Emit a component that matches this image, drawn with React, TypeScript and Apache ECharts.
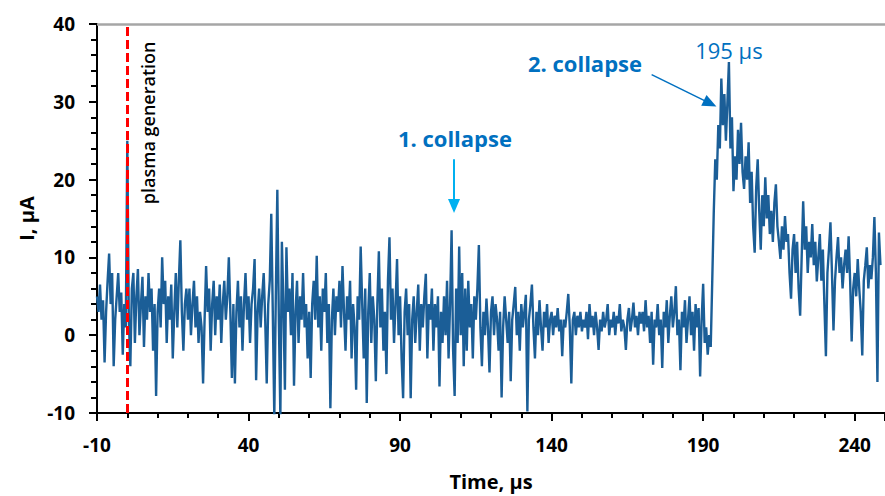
import React, { useEffect, useRef } from "react";
import * as echarts from "echarts";

// time axis: first sample and sampling step (µs)
const T0 = -10;
const DT = 0.5;

// current I (µA), 10 µs per row
const iPre = [5, 3, 6.5, 2, 4.5, -3.5, 3, 7, 10.5, 4, 8, -4, 2, 5, 8, 3, 5.5, -2.5, 4, 1];
const i0 = [25, 2, -4, 6, 8, -1, 5, 8.5, 0, 4, 7.5, -1.5, 5, 2, 8, 3, 6, -2, 4, -7.8];
const i10 = [3, 6, 1, 10, 4, 7, -1, 5, 2, 6.5, -3, 3, 8, 1, 7, 12.2, 3, -2, 4, 6];
const i20 = [2, 6, 0, 4, 7, 1, 5, -1, 3, 1, -6.2, 2, 8.9, 3, 6, -2, 4, 7, 0, 5];
const i30 = [2, 6.5, -1, 4, 7, 2, 5, 10, 3, -5.5, 4, -6.2, 3, 7, 1, 5, -2, 4, 8, 2];
const i40 = [5, -1, 4, 6, 9.8, -5.8, 3, 6, 1, 5, 8, 2, -6.2, 4, 7, 15.6, 3, -10.5, 5, 18.7];
const i50 = [2, -10.5, 12, 4, -7, 11.3, 3, 6, 0, 8, -6.5, 3, 7, -1, 5, 2, 8, 1, 4, -3];
const i60 = [3, -5.5, 4, 7, 2, 10.2, 1, 5, -2, 6, 3, 8, -1, 4, -9.4, 2, 6, 0, 5, 3];
const i70 = [7, 1, 8.9, 3, -2, 5, 2, 7, -3, 4, 1, -7, 5, 2, 11.4, 4, -3, 6, -8.7, 3];
const i80 = [8, -1, 5, 2, -5.9, 4, 10.8, 1, 6, -2, 3, -5, 7, 12.6, 2, 6, -1, 4, 9.8, 0];
const i90 = [5, -3, -8.1, 3, 6, 0, 4, -8.1, 2, 5, -1, 3, 6.5, -2, 4, 1, 5, 7.9, -3, 4];
const i100 = [2, 6, -2, 4, 1, 5, -6.6, 3, -1, 5, 0, 7, -3, 4, 13.5, -2, -7.8, 6, -1, 11.4];
const i110 = [0, 8, -4, 6, -2, 7, 1, 4, -3, 5, 2, 6, 11.6, 1, -4, 3, 0, 4.7, 1, -4.8];
const i120 = [3, 5, 0, 4, 2, -2, 3, -8, 1, 5, 2, -1, 3, -5.9, 2, 4, 6.2, 0, 3, -2];
const i130 = [4, 1, 3, 5.2, -9.8, 2, 4, 6.5, 1, -3, 3, 0, 4.5, 1, -2, 3, 1, 4, -1, 2];
const i140 = [3, 0, 2.5, 1, 3.5, 0.5, 2, -2.7, 2, 1, 3, 5.3, 1, -6.2, 2, 3, 0, 2.5, 1, 3];
const i150 = [0.5, 2, 1, 3, -0.5, 4, 1, 2.5, 0, 3, 1, -1.9, 2, 0.5, 3, 1, 2, 4, 0, 2];
const i160 = [1, 3, 0, 2.5, 1.5, 4, 0.5, 2, 1, -1.9, 2, 3.5, 0.5, 2, 4.2, 1, 2.5, 0, 3, 1.5];
const i170 = [3, 0.5, 4.5, 1, 2.5, -1, 3, -3.8, 2, 1, 4, 0, 2, -4.2, 3, 1, 4.5, -1, 2.5, 5];
const i180 = [1, 3, 6.3, 0, 2, -4.5, 3, 1, 4.5, -1, 2, 5, 0, 3, -2, 4, 1, 3.5, -5.3, 2];
const i190 = [6.6, -1, 1, -2.5, 0, -1.5, 7, 15.8, 22.6, 20, 27, 24, 33, 27, 31, 25, 29.9, 35.1, 24, 28];
const i200 = [18.5, 23, 20, 26.4, 22, 27.3, 21, 18.8, 23, 20, 24.8, 17, 21, 14, 10.6, 19, 22.6, 16, 11, 18];
const i210 = [14, 20.3, 15, 18, 13, 16, 12, 17, 19.4, 14, 12, 9.8, 14, 11, 15.3, 12, 13, 8, 4.7, 11];
const i220 = [13, 8, 12, 6, 2.5, 10, 17.2, 11, 14, 8, 12, 10, 14.3, 9, 12, 6.9, 10, 13, 7, 11];
const i230 = [4, -2.7, 8, 11, 14.5, 8, 0.6, 7, 10, 12.6, 8, 10, 6, 9, 11, 8, 12.7, 7, -0.8, 6];
const i240 = [8, 5, 9.8, 6, 3, -2.6, 7, 9, 11.3, 6, 9, 7.2, 10, 15.2, 8, -6, 13.2, 9];

const current = [
  ...iPre, ...i0, ...i10, ...i20, ...i30, ...i40, ...i50, ...i60, ...i70,
  ...i80, ...i90, ...i100, ...i110, ...i120, ...i130, ...i140, ...i150,
  ...i160, ...i170, ...i180, ...i190, ...i200, ...i210, ...i220, ...i230, ...i240,
];

// axes
const X_MIN = -10;
const X_MAX = 250;
const X_STEP = 50;
const Y_MIN = -10;
const Y_MAX = 40;
const Y_STEP = 10;

// annotations (data coordinates)
const plasmaTime = 0;
const noteLabels = ["plasma generation", "1. collapse", "2. collapse", "195 µs"];
const noteCoords: [number, number][] = [
  [6.9, 27.3],
  [108.1, 25.3],
  [151.0, 35.0],
  [198.5, 36.7],
];
const arrow1: [number, number][] = [
  [107.8, 22.6],
  [107.8, 16.6],
];
const arrow2: [number, number][] = [
  [173.0, 33.5],
  [192.3, 29.8],
];

const FONT = "'Open Sans', 'Noto Sans', sans-serif";

export default function App() {
  const ref = useRef<HTMLDivElement>(null);

  useEffect(() => {
    document.body.style.margin = "0";
    if (!ref.current) return;
    const chart = echarts.init(ref.current, undefined, { renderer: "svg" });

    const data = current.map((v, k) => [T0 + k * DT, v]);

    const noteStyles = [
      { fontSize: 18, fontWeight: 600, color: "#000", rotate: 90 },
      { fontSize: 22, fontWeight: "bold", color: "#0070C0" },
      { fontSize: 22, fontWeight: "bold", color: "#0070C0" },
      { fontSize: 22, fontWeight: "normal", color: "#0070C0" },
    ];

    chart.setOption({
      animation: false,
      textStyle: { fontFamily: FONT },
      grid: { left: 97, right: -5, top: 24, bottom: 81 },
      xAxis: {
        type: "value",
        min: X_MIN,
        max: X_MAX,
        interval: X_STEP,
        name: "Time, µs",
        nameLocation: "middle",
        nameGap: 58,
        nameTextStyle: { fontSize: 20, fontWeight: "bold", color: "#000", fontFamily: FONT },
        axisLine: { show: true, onZero: false, lineStyle: { color: "#000", width: 2 } },
        axisTick: { show: true, length: 8, lineStyle: { color: "#000", width: 2 } },
        minorTick: { show: true, splitNumber: 5, length: 5, lineStyle: { color: "#000", width: 2 } },
        splitLine: { show: false },
        axisLabel: {
          fontSize: 19,
          fontWeight: "bold",
          color: "#000",
          margin: 22,
          showMaxLabel: false,
          fontFamily: FONT,
        },
      },
      yAxis: {
        type: "value",
        min: Y_MIN,
        max: Y_MAX,
        interval: Y_STEP,
        name: "I, µA",
        nameLocation: "middle",
        nameGap: 60,
        nameTextStyle: { fontSize: 20, fontWeight: "bold", color: "#000", fontFamily: FONT },
        axisLine: { show: true, onZero: false, lineStyle: { color: "#000", width: 2 } },
        axisTick: { show: true, length: 8, lineStyle: { color: "#000", width: 2 } },
        minorTick: { show: true, splitNumber: 5, length: 6, lineStyle: { color: "#000", width: 2 } },
        splitLine: { show: false },
        axisLabel: { fontSize: 19, fontWeight: "bold", color: "#000", margin: 22, fontFamily: FONT },
      },
      series: [
        {
          type: "line",
          name: "top",
          data: [],
          z: 1,
          silent: true,
          markLine: {
            silent: true,
            symbol: ["none", "none"],
            label: { show: false },
            lineStyle: { color: "#a6a6a6", width: 2.5, type: "solid" },
            data: [{ yAxis: Y_MAX }],
          },
        },
        {
          type: "line",
          name: "I",
          data,
          showSymbol: false,
          symbol: "none",
          clip: true,
          z: 2,
          lineStyle: { color: "#1b5e97", width: 2.4 },
          itemStyle: { color: "#1b5e97" },
          emphasis: { disabled: true },
          markPoint: {
            silent: true,
            symbol: "circle",
            symbolSize: 1,
            itemStyle: { color: "transparent" },
            data: noteLabels.map((txt, k) => ({
              coord: noteCoords[k],
              value: txt,
              label: {
                show: true,
                position: "inside",
                formatter: txt,
                fontFamily: FONT,
                ...noteStyles[k],
              },
            })),
          },
          markLine: {
            silent: true,
            symbol: ["none", "triangle"],
            symbolSize: [12, 14],
            label: { show: false },
            data: [
              [
                { coord: arrow1[0], lineStyle: { color: "#00B0F0", width: 2, type: "solid" } },
                { coord: arrow1[1], itemStyle: { color: "#00B0F0" } },
              ],
              [
                { coord: arrow2[0], lineStyle: { color: "#0070C0", width: 1.5, type: "solid" } },
                { coord: arrow2[1], itemStyle: { color: "#0070C0" } },
              ],
            ],
          },
        },
        {
          type: "line",
          name: "plasma",
          data: [],
          z: 5,
          silent: true,
          markLine: {
            silent: true,
            symbol: ["none", "none"],
            label: { show: false },
            lineStyle: { color: "#ff0000", width: 3, type: [9, 4] },
            data: [{ xAxis: plasmaTime }],
          },
        },
      ],
    });

    return () => chart.dispose();
  }, []);

  return <div ref={ref} style={{ width: 885, height: 496 }} />;
}
